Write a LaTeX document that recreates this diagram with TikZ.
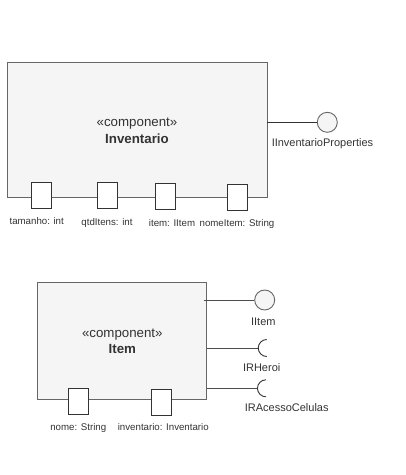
\documentclass[tikz,border=0pt]{standalone}
\usepackage{fontspec}
\setmainfont{Liberation Sans}
\begin{document}
\begin{tikzpicture}[x=1pt,y=-1pt,
  comp/.style={draw=black!60,fill=black!4,line width=0.9pt,minimum width=#1,inner sep=0pt},
  portbox/.style={draw=black!80,fill=white,line width=0.9pt,minimum width=20pt,minimum height=26pt,inner sep=0pt},
  plabel/.style={text=black!80,font=\fontsize{9.7}{11}\selectfont,inner sep=0pt},
  ilabel/.style={text=black!80,font=\fontsize{11}{13}\selectfont,inner sep=0pt},
  ctext/.style={text=black!80,font=\fontsize{13.3}{16.5}\selectfont,align=center,inner sep=0pt},
  conn/.style={draw=black!80,line width=0.9pt},
  lolli/.style={circle,draw=black!60,fill=black!4,line width=0.9pt,minimum size=20pt,inner sep=0pt}]
\useasboundingbox (0,0) rectangle (406,475);
% Inventario
\node[comp=260pt,minimum height=135pt] (inv) at (137,130) {};
\node[ctext] (invt) at (137,131) {«component»\\\textbf{Inventario}};
\node[portbox] (p1) at (41.7,195.3) {};
\node[portbox] (p2) at (107.3,195.3) {};
\node[portbox] (p3) at (165.3,196.5) {};
\node[portbox] (p4) at (237.7,197.5) {};
\node[plabel] (l1) at (36.7,221) {tamanho: int};
\node[plabel] (l2) at (107,223) {qtdItens: int};
\node[plabel] (l3) at (172,223) {item: IItem};
\node[plabel] (l4) at (237,224) {nomeItem: String};
\node[lolli] (ip) at (327.3,122.3) {};
\draw[conn] (inv.east |- ip) -- (ip.west);
\node[ilabel] (ipl) at (322.5,144) {IInventarioProperties};
% Item
\node[comp=169pt,minimum height=117pt] (item) at (121.8,340.8) {};
\node[ctext] (itemt) at (122.3,341.5) {«component»\\\textbf{Item}};
\node[portbox] (q1) at (78.3,401.7) {};
\node[portbox] (q2) at (161.7,402.7) {};
\node[plabel] (m1) at (78.3,427.5) {nome: String};
\node[plabel] (m2) at (163.3,427.5) {inventario: Inventario};
\node[lolli] (ii) at (264.7,300) {};
\draw[conn,draw=black!70] (204,300) -- (ii.west);
\node[ilabel] (iil) at (263.3,321.5) {IItem};
\coordinate (h) at (266,348);
\draw[conn,draw=black!70] (item.east |- h) -- ++(51.5,0) coordinate (hx);
\draw[conn] ([xshift=8.5pt,yshift=8.5pt]hx) arc[start angle=90,end angle=270,radius=8.5pt];
\node[ilabel] (hl) at (261.7,368) {IRHeroi};
\coordinate (a) at (266,388.3);
\draw[conn,draw=black!70] (item.east |- a) -- ++(50.7,0) coordinate (ax);
\draw[conn] ([xshift=8.5pt,yshift=8.5pt]ax) arc[start angle=90,end angle=270,radius=8.5pt];
\node[ilabel] (al) at (286.7,408) {IRAcessoCelulas};
\end{tikzpicture}
\end{document}
